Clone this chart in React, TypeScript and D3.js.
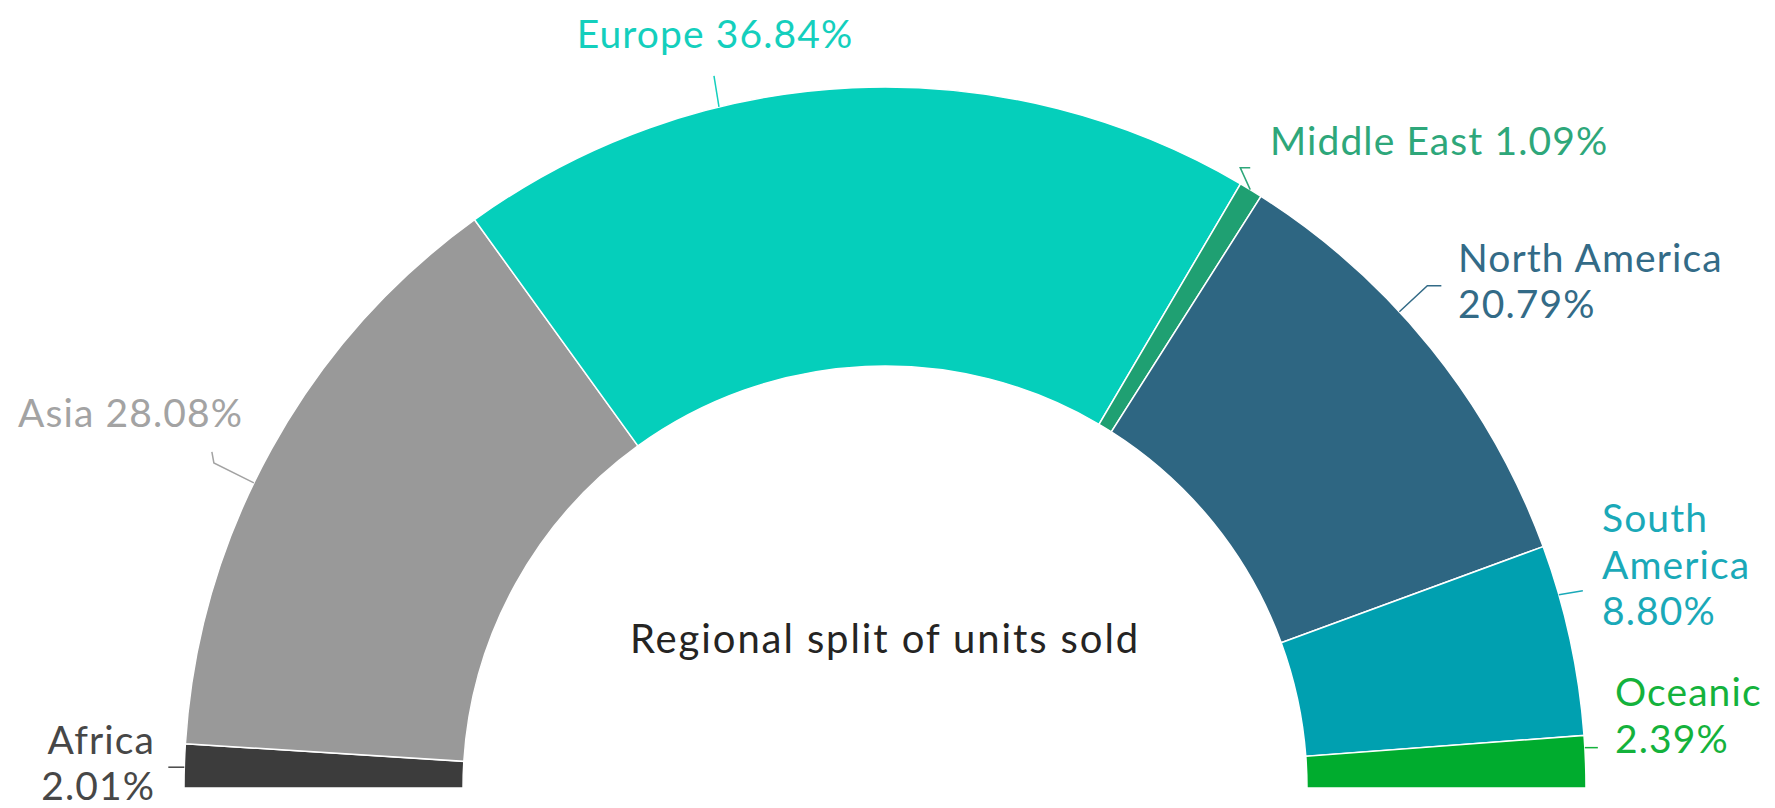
import React from "react";
import * as d3 from "d3";

const regions = ["Africa", "Asia", "Europe", "Middle East", "North America", "South America", "Oceanic"];
const shares = [2.01, 28.08, 36.84, 1.09, 20.79, 8.8, 2.39];
const sliceColors = ["#3c3c3c", "#999999", "#05cfbb", "#1fa072", "#2e6682", "#00a0b0", "#00ac2e"];
const labelColors = ["#474747", "#a3a3a3", "#14cfbd", "#2ea77a", "#336b87", "#1aa9b8", "#14b23c"];
const labelLines = [
  ["Africa", "2.01%"],
  ["Asia 28.08%"],
  ["Europe 36.84%"],
  ["Middle East 1.09%"],
  ["North America", "20.79%"],
  ["South", "America", "8.80%"],
  ["Oceanic", "2.39%"],
];
const title = "Regional split of units sold";

// layout (positions, not data)
const W = 1775, H = 808;
const cx = 885, cy = 788, R = 701, r = 422;
const FONT = "Lato, 'Open Sans', sans-serif";
const FS = 39;
const LS = 1.1;
// leader anchor angle from the left end of the arc (degrees), leader bends, text anchor
const labelLayout = [
  { ang: 1.7, pts: [[-16, 0]], tx: 155, ty: 754, anchor: "end", lh: 46 },
  { ang: 25.8, pts: [[-40, -20], [-42, -31]], tx: 243, ty: 427, anchor: "end", lh: 47 },
  { ang: 76.3, pts: [[-5, -31]], tx: 715, ty: 48, anchor: "middle", lh: 47 },
  { ang: 121.4, pts: [[-10, -22], [0, -22]], tx: 1270, ty: 155, anchor: "start", lh: 47 },
  { ang: 137.2, pts: [[28, -26], [42, -26]], tx: 1458, ty: 272, anchor: "start", lh: 46 },
  { ang: 164.0, pts: [[24, -4]], tx: 1602, ty: 532, anchor: "start", lh: 46.5 },
  { ang: 176.7, pts: [[13, 0]], tx: 1615, ty: 706, anchor: "start", lh: 47 },
];

export default function App() {
  const pie = d3
    .pie<number>()
    .sort(null)
    .startAngle(-Math.PI / 2)
    .endAngle(Math.PI / 2)
    .value((d) => d);
  const arcs = pie(shares);
  const arcGen = d3.arc<d3.PieArcDatum<number>>().innerRadius(r).outerRadius(R);

  const ptOnArc = (degFromLeft: number) => {
    const a = Math.PI - (degFromLeft * Math.PI) / 180;
    return [cx + R * Math.cos(a), cy - R * Math.sin(a)];
  };

  return (
    <svg
      width={W}
      height={H}
      style={{ position: "absolute", left: 0, top: 0, background: "#fff" }}
      fontFamily={FONT}
    >
      <g transform={`translate(${cx},${cy})`}>
        {arcs.map((a, i) => (
          <path key={regions[i]} d={arcGen(a) || ""} fill={sliceColors[i]} stroke="#fff" strokeWidth={1.5} />
        ))}
      </g>
      {labelLayout.map((L, i) => {
        const [x0, y0] = ptOnArc(L.ang);
        const line = d3.line()([[x0, y0], ...L.pts.map(([dx, dy]) => [x0 + dx, y0 + dy] as [number, number])]);
        return (
          <g key={regions[i]}>
            <path d={line || ""} fill="none" stroke={labelColors[i]} strokeWidth={1.5} />
            <text x={L.tx} y={L.ty} textAnchor={L.anchor as any} fill={labelColors[i]} fontSize={FS} letterSpacing={LS}>
              {labelLines[i].map((t, k) => (
                <tspan key={k} x={L.tx} y={L.ty + k * L.lh}>
                  {t}
                </tspan>
              ))}
            </text>
          </g>
        );
      })}
      <text x={cx} y={653} textAnchor="middle" fill="#252423" fontSize={40} letterSpacing={1.9}>
        {title}
      </text>
    </svg>
  );
}
